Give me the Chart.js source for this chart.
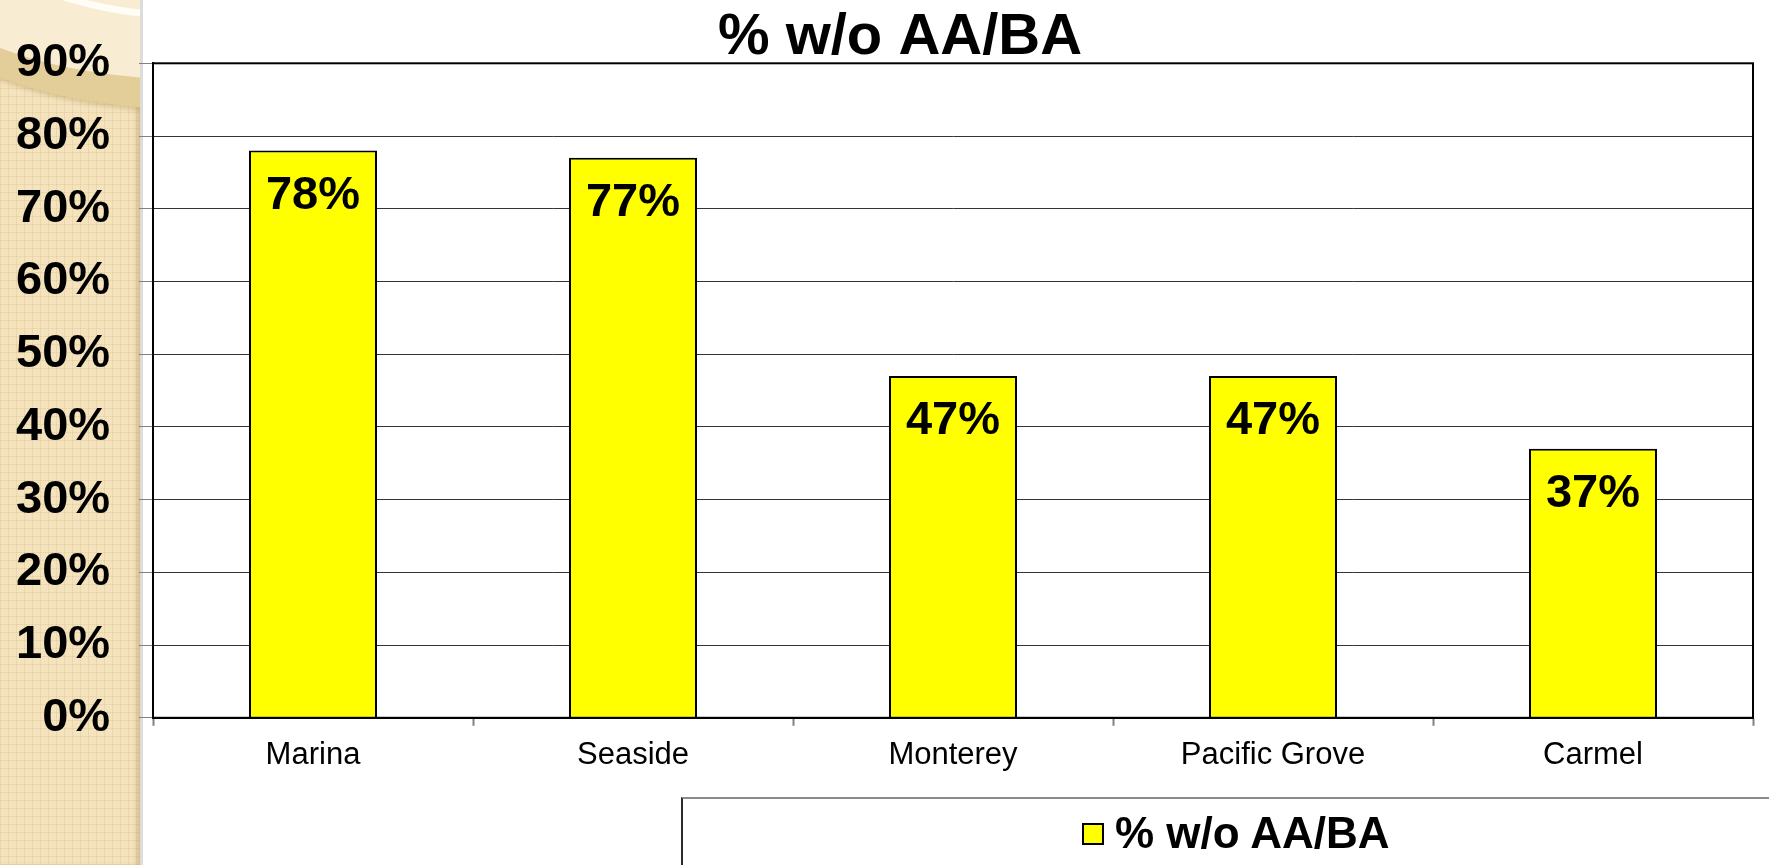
<!DOCTYPE html>
<html>
<head>
<meta charset="utf-8">
<title>% w/o AA/BA</title>
<script src="https://cdn.jsdelivr.net/npm/chart.js@4.4.1/dist/chart.umd.min.js"></script>
<style>
    html, body {
        margin: 0;
        padding: 0;
        background: #fff;
        overflow: hidden;
    }
    #page {
        position: relative;
        width: 1769px;
        height: 865px;
    }
    #strip {
        position: absolute;
        left: 0;
        top: 0;
        width: 140px;
        height: 865px;
        overflow: hidden;
        background-color: #F4E3BD;
        background-image:
            linear-gradient(90deg, rgba(205, 175, 115, 0.22) 1px, transparent 1px),
            linear-gradient(rgba(205, 175, 115, 0.22) 1px, transparent 1px);
        background-size: 8px 8px;
        box-shadow: inset -5px 0 5px -2px rgba(170, 140, 80, 0.45);
    }
    #stripEdge {
        position: absolute;
        left: 140px;
        top: 0;
        width: 3px;
        height: 865px;
        background: #dcdcdc;
    }
    #ring {
        position: absolute;
        box-sizing: border-box;
        left: -100px;
        top: -146px;
        width: 600px;
        height: 256px;
        border-radius: 50%;
        border: 30px solid #E3CD98;
        background: #F8EDD3;
        box-shadow: 0 3px 4px rgba(170, 140, 80, 0.35);
    }
    #ringInner {
        position: absolute;
        box-sizing: border-box;
        left: -40px;
        top: -200px;
        width: 480px;
        height: 220px;
        border-radius: 50%;
        border: 7px solid #fffdf5;
    }
    #chartCanvas {
        position: absolute;
        left: 0;
        top: 0;
    }
    #legendBox {
        position: absolute;
        left: 681px;
        top: 797px;
        width: 1200px;
        height: 200px;
        border-top: 2px solid #8a8a8a;
        border-left: 2px solid #2a2a2a;
        background: #fff;
    }
    #legendItem {
        position: absolute;
        left: 1082px;
        top: 811px;
        display: flex;
        align-items: center;
        font-family: 'Liberation Sans', Arial, sans-serif;
        font-weight: bold;
        font-size: 44px;
        color: #000;
        line-height: 44px;
    }
    #legendSwatch {
        width: 18px;
        height: 18px;
        background: #FFFF00;
        border: 2px solid #000;
        margin-right: 11px;
        margin-top: 2px;
    }
</style>
</head>
<body>
<div id="page">
    <div id="strip">
        <div id="ring"></div>
        <div id="ringInner"></div>
    </div>
    <div id="stripEdge"></div>
    <div id="legendBox"></div>
    <canvas id="chartCanvas" width="1769" height="865"></canvas>
    <div id="legendItem"><span id="legendSwatch"></span><span id="legendText"></span></div>
</div>
<script>
const categories = ['Marina', 'Seaside', 'Monterey', 'Pacific Grove', 'Carmel'];
const seriesName = '% w/o AA/BA';
const values = [78, 77, 47, 47, 37];
const yMin = 0;
const yMax = 90;
const yStep = 10;

const FONT = "'Liberation Sans', Arial, sans-serif";

document.getElementById('legendText').textContent = seriesName;

// black frame around the plot area
const plotFrame = {
    id: 'plotFrame',
    afterDraw(chart) {
        const { ctx, chartArea } = chart;
        ctx.save();
        ctx.strokeStyle = '#000';
        ctx.lineWidth = 2;
        ctx.strokeRect(chartArea.left, chartArea.top, chartArea.right - chartArea.left, chartArea.bottom - chartArea.top);
        ctx.restore();
    }
};

// value labels just inside the top of each bar
const barLabels = {
    id: 'barLabels',
    afterDatasetsDraw(chart) {
        const { ctx } = chart;
        const meta = chart.getDatasetMeta(0);
        ctx.save();
        ctx.font = `bold 47px ${FONT}`;
        ctx.fillStyle = '#000';
        ctx.textAlign = 'center';
        ctx.textBaseline = 'alphabetic';
        meta.data.forEach((bar, i) => {
            ctx.fillText(`${values[i]}%`, bar.x, bar.y + 58);
        });
        ctx.restore();
    }
};

const ctx = document.getElementById('chartCanvas').getContext('2d');
new Chart(ctx, {
    type: 'bar',
    data: {
        labels: categories,
        datasets: [{
            label: seriesName,
            data: values,
            backgroundColor: '#FFFF00',
            borderColor: '#000',
            borderWidth: 2,
            barPercentage: 0.4,
            categoryPercentage: 1.0,
        }]
    },
    options: {
        responsive: false,
        animation: false,
        devicePixelRatio: 1,
        layout: {
            padding: { left: 47, right: 16, top: 0, bottom: 80 }
        },
        plugins: {
            legend: { display: false },
            tooltip: { enabled: false },
            title: {
                display: true,
                text: seriesName,
                color: '#000',
                font: { family: FONT, size: 58, weight: 'bold', lineHeight: 0.85 },
                padding: { top: 13, bottom: 1 }
            }
        },
        scales: {
            x: {
                grid: {
                    offset: true,
                    drawOnChartArea: false,
                    drawTicks: true,
                    tickLength: 8,
                    tickColor: '#808080',
                    tickWidth: 2,
                },
                border: { display: true, color: '#000', width: 2 },
                ticks: {
                    color: '#000',
                    padding: 11,
                    font: { family: FONT, size: 31 }
                }
            },
            y: {
                min: yMin,
                max: yMax,
                afterFit: (scale) => { scale.width = 106; },
                grid: {
                    color: '#333',
                    lineWidth: 1,
                    tickLength: 14,
                    tickColor: '#808080',
                },
                border: { display: true, color: '#000', width: 2 },
                ticks: {
                    stepSize: yStep,
                    color: '#000',
                    // mirrored + far-aligned so the labels are not clipped to the axis box
                    mirror: true,
                    crossAlign: 'far',
                    padding: -137,
                    font: { family: FONT, size: 47, weight: 'bold' },
                    callback: (v) => `${v}%`
                }
            }
        }
    },
    plugins: [plotFrame, barLabels]
});
</script>
</body>
</html>
